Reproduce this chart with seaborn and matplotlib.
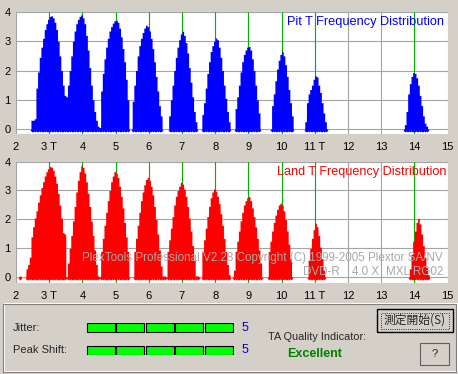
import matplotlib
matplotlib.use("Agg")
import matplotlib.pyplot as plt
from matplotlib.patches import Rectangle
import seaborn as sns
import pandas as pd

# T positions, tick labels
t_ticks = list(range(2, 16))
t_labels = ["2", "3 T", "4", "5", "6", "7", "8", "9", "10", "11 T", "12", "13", "14", "15"]
t_marks = [3, 4, 5, 6, 7, 8, 9, 10, 11, 14]
y_ticks = [0, 1, 2, 3, 4]

bin_width = 0.05

# Pit: left edge of each peak and heights of its 0.05 T bins
pit_starts = [2.45, 3.55, 4.55, 5.5, 6.6, 7.6, 8.6, 9.7, 10.7, 13.7]
pit_freq = [
    [0.3, 0.3, 0.35, 1.4, 1.95, 2.45, 2.8, 3.1, 3.4, 3.6, 3.75, 3.85, 3.87, 3.8, 3.65, 3.4,
     3.0, 2.5, 2.0, 1.5, 1.15, 1.1],
    [1.5, 2.0, 2.5, 3.0, 3.35, 3.6, 3.75, 3.85, 3.9, 3.8, 3.6, 3.2, 2.7, 2.1, 1.5, 1.0, 0.6,
     0.3, 0.1, 0.05],
    [1.3, 1.9, 2.4, 2.8, 3.1, 3.35, 3.5, 3.62, 3.7, 3.72, 3.65, 3.45, 3.15, 2.75, 2.3, 1.7, 1.0],
    [0.95, 1.5, 2.0, 2.5, 2.85, 3.1, 3.3, 3.45, 3.55, 3.5, 3.35, 3.1, 2.75, 2.3, 1.8, 1.3, 0.8, 0.45],
    [0.45, 1.0, 1.5, 2.0, 2.45, 2.8, 3.05, 3.25, 3.34, 3.2, 2.95, 2.6, 2.1, 1.6, 1.1, 0.6, 0.25],
    [0.5, 0.9, 1.4, 1.9, 2.3, 2.65, 2.85, 3.0, 3.11, 3.05, 2.8, 2.45, 2.0, 1.5, 1.05, 0.6, 0.25],
    [0.7, 1.1, 1.5, 1.95, 2.3, 2.55, 2.7, 2.8, 2.82, 2.7, 2.4, 2.0, 1.5, 1.0, 0.55],
    [0.8, 1.2, 1.65, 2.05, 2.35, 2.55, 2.64, 2.5, 2.2, 1.8, 1.35, 0.9, 0.45],
    [0.25, 0.9, 1.2, 1.35, 1.5, 1.7, 1.82, 1.78, 1.5, 1.25, 0.9, 0.55, 0.25],
    [0.15, 0.6, 1.2, 1.55, 1.8, 1.93, 1.9, 1.75, 1.5, 1.15, 0.8, 0.45, 0.2, 0.1],
]

# Land
land_starts = [2.1, 2.3, 3.55, 4.55, 5.55, 6.55, 7.6, 8.55, 9.6, 10.8, 13.85]
land_freq = [
    [0.05],
    [0.3, 0.45, 0.7, 1.4, 1.75, 2.05, 2.3, 2.6, 2.85, 3.1, 3.3, 3.5, 3.65, 3.75, 3.83, 3.8,
     3.7, 3.5, 3.25, 2.9, 2.5, 2.05, 1.55, 1.5],
    [0.5, 1.0, 1.45, 1.95, 2.45, 2.95, 3.35, 3.65, 3.85, 3.8, 3.6, 3.3, 2.9, 2.45, 1.95, 1.45,
     0.95, 0.45, 0.05],
    [0.9, 1.35, 1.8, 2.25, 2.65, 3.0, 3.3, 3.5, 3.65, 3.6, 3.45, 3.15, 2.8, 2.4, 1.9, 1.4, 0.9],
    [0.9, 1.35, 1.8, 2.25, 2.65, 2.95, 3.2, 3.38, 3.45, 3.35, 3.15, 2.85, 2.45, 2.0, 1.5, 0.95,
     0.4, 0.05, 0.05],
    [0.9, 1.3, 1.7, 2.1, 2.5, 2.8, 3.0, 3.15, 3.28, 3.22, 3.05, 2.8, 2.45, 2.05, 1.6, 1.1, 0.6,
     0.05, 0.05],
    [0.9, 1.3, 1.7, 2.1, 2.45, 2.75, 2.95, 3.05, 2.98, 2.8, 2.55, 2.2, 1.8, 1.35, 0.9, 0.45, 0.1],
    [0.25, 0.9, 1.25, 1.6, 1.95, 2.25, 2.5, 2.65, 2.75, 2.79, 2.65, 2.4, 2.1, 1.75, 1.35, 0.95, 0.5],
    [0.9, 1.25, 1.6, 1.9, 2.15, 2.35, 2.5, 2.56, 2.5, 2.3, 2.0, 1.6, 1.15, 0.65],
    [0.6, 1.0, 1.35, 1.65, 1.87, 1.75, 1.45, 1.05, 0.65, 0.25],
    [0.3, 0.8, 1.25, 1.6, 1.9, 2.04, 1.85, 1.5, 1.1, 0.7, 0.35, 0.1],
]

jitter_level = 5
peak_shift_level = 5
quality = "Excellent"

BG = "#D4D0C8"
W, H = 458, 374
edges = [round(2 + k * bin_width, 3) for k in range(int(round(13 / bin_width)) + 1)]


def to_frame(starts, freqs):
    rows = []
    for s, heights in zip(starts, freqs):
        for i, h in enumerate(heights):
            rows.append({"t": round(s + (i + 0.5) * bin_width, 4), "freq": h})
    return pd.DataFrame(rows)


def fig_rect(x0, y0, x1, y1):
    # pixel box (top-left origin) -> figure fraction
    return [x0 / W, 1 - y1 / H, (x1 - x0) / W, (y1 - y0) / H]


def draw_panel(ax, df, color, ylo):
    ax.set_facecolor("white")
    ax.set_axisbelow(True)
    ax.grid(True, color="#A4A4A4", linewidth=0.8)
    for t in t_marks:
        ax.axvline(t, color="#00B400", linewidth=0.8, zorder=0.8)
    sns.histplot(data=df, x="t", weights="freq", bins=edges,
                 element="step", fill=True, color=color, alpha=1, linewidth=0, ax=ax)
    sns.scatterplot(x=df["t"], y=[-0.02] * len(df), marker="D", s=4, color=color,
                    linewidth=0, ax=ax, zorder=3, clip_on=False)
    ax.set_xlim(2, 15)
    ax.set_ylim(ylo, 4)
    ax.set_xticks(t_ticks)
    ax.set_xticklabels(t_labels)
    ax.set_yticks(y_ticks)
    ax.set_xlabel("")
    ax.set_ylabel("")
    ax.tick_params(length=0, labelsize=8, colors="black")
    ax.tick_params(axis="x", pad=5.5)
    ax.tick_params(axis="y", pad=4)
    for sp in ax.spines.values():
        sp.set_visible(False)


sns.set_theme(style="whitegrid")
plt.rcParams["font.family"] = ["Liberation Sans", "DejaVu Sans"]

fig = plt.figure(figsize=(W / 100, H / 100), dpi=100, facecolor=BG)

ax_top = fig.add_axes(fig_rect(16, 12, 447.5, 134))
draw_panel(ax_top, to_frame(pit_starts, pit_freq), "#0000FF", -0.17)

ax_bot = fig.add_axes(fig_rect(16, 161.5, 447.5, 283))
draw_panel(ax_bot, to_frame(land_starts, land_freq), "#FF0000", -0.19)


def ftext(x, y, s, **kw):
    kw.setdefault("fontsize", 8)
    kw.setdefault("va", "center")
    fig.text(x / W, 1 - y / H, s, **kw)


ftext(287, 22.5, "Pit T Frequency Distribution", color="#0000FF", fontsize=9.2)
ftext(277, 172, "Land T Frequency Distribution", color="#FF0000", fontsize=9.1)
ftext(443, 258.5, "PlexTools Professional V2.28 Copyright (C) 1999-2005 Plextor SA/NV",
      color="#A8A8A8", ha="right", zorder=10, fontsize=8.35)
ftext(303, 272, "DVD-R", color="#A8A8A8", zorder=10, fontsize=8.35)
ftext(352, 272, "4.0 X", color="#A8A8A8", zorder=10, fontsize=8.35)
ftext(443, 272, "MXL RG02", color="#A8A8A8", ha="right", zorder=10, fontsize=8.35)

# lower frame
fig.patches.append(Rectangle((3 / W, 1 - 371.5 / H), 453 / W, 67.5 / H, transform=fig.transFigure,
                             facecolor="none", edgecolor="#808080", linewidth=0.8))
fig.patches.append(Rectangle((4 / W, 1 - 370.5 / H), 453 / W, 67.5 / H, transform=fig.transFigure,
                             facecolor="none", edgecolor="white", linewidth=0.8, zorder=0.5))

ftext(13, 328, "Jitter:")
ftext(13, 350, "Peak Shift:")

ax_ind = fig.add_axes(fig_rect(86, 323, 233.5, 354.5))
levels = [jitter_level, peak_shift_level]
for row, lvl in enumerate(levels):
    ax_ind.barh([row] * lvl, [0.95] * lvl, left=[j + 0.025 for j in range(lvl)], height=0.38,
                color="#00FF00", edgecolor="black", linewidth=0.8)
ax_ind.set_xlim(0, 5)
ax_ind.set_ylim(1.19, -0.19)
ax_ind.axis("off")

ftext(242, 328, str(jitter_level), color="#0000C8", fontsize=9)
ftext(242, 350, str(peak_shift_level), color="#0000C8", fontsize=9)

ftext(268, 337, "TA Quality Indicator:", fontsize=7.8)
ftext(287, 354, quality, color="#008000", fontsize=9, fontweight="bold")

# buttons
fig.patches.append(Rectangle((377 / W, 1 - 332 / H), 76 / W, 23 / H, transform=fig.transFigure,
                             facecolor=BG, edgecolor="black", linewidth=1))
fig.patches.append(Rectangle((381 / W, 1 - 328.5 / H), 68 / W, 16 / H, transform=fig.transFigure,
                             facecolor="none", edgecolor="black", linewidth=0.6, linestyle=":"))
ftext(415, 320.5, "測定開始(S)", ha="center", fontsize=8.5,
      family=["Noto Sans CJK JP", "DejaVu Sans"])
fig.patches.append(Rectangle((420 / W, 1 - 365 / H), 29 / W, 22 / H, transform=fig.transFigure,
                             facecolor=BG, edgecolor="#606060", linewidth=0.8))
ftext(434.5, 354, "?", ha="center")

fig.savefig("out.png", dpi=100, facecolor=BG)
